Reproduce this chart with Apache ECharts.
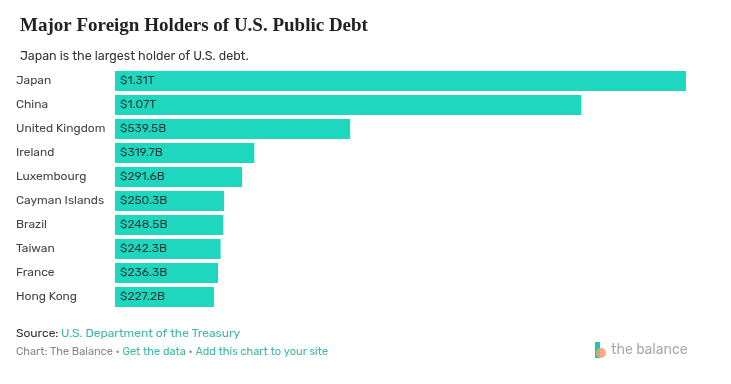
<!DOCTYPE html>
<html><head><meta charset="utf-8">
<script src="https://cdn.jsdelivr.net/npm/echarts@6/dist/echarts.min.js"></script>
<style>html,body{margin:0;padding:0;background:#fff}#c{width:731px;height:384px}</style>
</head><body><div id="c"></div>
<script>
const categories = ["Japan","China","United Kingdom","Ireland","Luxembourg","Cayman Islands","Brazil","Taiwan","France","Hong Kong"];
const values = [1310, 1070, 539.5, 319.7, 291.6, 250.3, 248.5, 242.3, 236.3, 227.2];
const valueLabels = ["$1.31T","$1.07T","$539.5B","$319.7B","$291.6B","$250.3B","$248.5B","$242.3B","$236.3B","$227.2B"];

const chart = echarts.init(document.getElementById('c'), null, {renderer:'canvas'});
const sans = 'Rubik, "Noto Sans", Inter, sans-serif';
chart.setOption({
  animation:false,
  title:[
    {text:'Major Foreign Holders of U.S. Public Debt', left:15, top:12,
     textStyle:{fontFamily:'"Liberation Serif", serif', fontWeight:'bold', fontSize:19, color:'#222'}},
    {text:'Japan is the largest holder of U.S. debt.', left:15, top:45,
     textStyle:{fontFamily:sans, fontWeight:'normal', fontSize:12.5, color:'#333'}}
  ],
  grid:{left:115, right:45, top:69, height:240, containLabel:false},
  xAxis:{type:'value', min:0, max:'dataMax', show:false},
  yAxis:{type:'category', data:categories, inverse:true,
    axisLine:{show:false}, axisTick:{show:false},
    axisLabel:{align:'left', margin:99, fontFamily:sans, fontSize:12, color:'#444'}},
  series:[{type:'bar', data:values, barCategoryGap:'17%', itemStyle:{color:'#1fd6be'},
    label:{show:true, position:'insideLeft', distance:5, fontFamily:sans, fontSize:12, color:'#1f3d38',
      formatter:p=>valueLabels[p.dataIndex]}}],
  graphic:[
    {type:'text', left:16, top:328, style:{text:'Source: ', font:'12px '+sans, fill:'#333'}},
    {type:'text', left:61, top:328, style:{text:'U.S. Department of the Treasury', font:'12px '+sans, fill:'#3cb9a3'}},
    {type:'text', left:16, top:346, style:{rich:{g:{fill:'#888',font:'11px '+sans},t:{fill:'#3cb9a3',font:'11px '+sans}},
      text:'{g|Chart: The Balance • }{t|Get the data}{g| • }{t|Add this chart to your site}'}},
    {type:'rect', shape:{x:595,y:342,width:5,height:16}, style:{fill:'#1fc8b0'}},
    {type:'circle', shape:{cx:601,cy:353,r:5}, style:{fill:'#f3a27a', opacity:0.9}},
    {type:'text', left:611, top:343, style:{text:'the balance', font:'14px '+sans, fill:'#aaa'}}
  ]
});
</script></body></html>
